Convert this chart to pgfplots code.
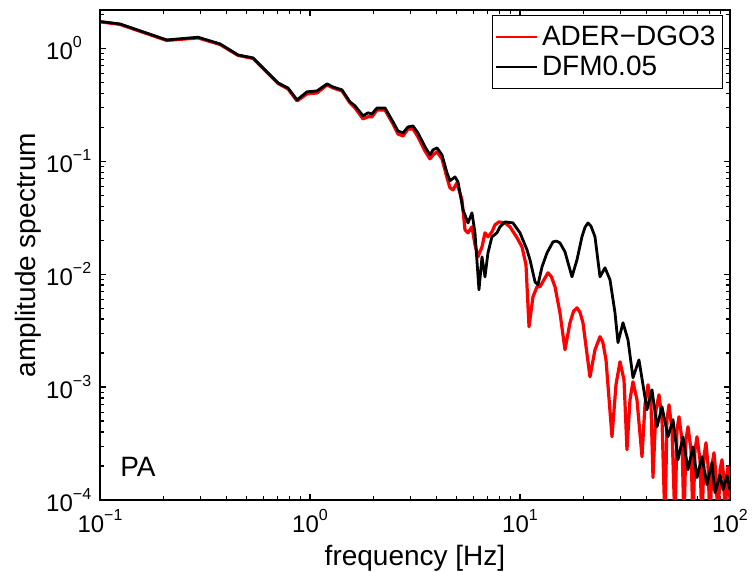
\documentclass[border=0pt]{standalone}
\usepackage{fontspec}
\setmainfont{Liberation Sans}
\usepackage{pgfplots}
\pgfplotsset{compat=1.18}
\definecolor{specred}{RGB}{255,0,0}
% x tick labels: whole label centred
\newcommand{\tp}[1]{10\raisebox{6pt}{\fontsize{8}{8}\selectfont #1}}
% y tick labels: "10" right aligned, exponent hangs to the right
\newcommand{\tq}[1]{10\rlap{\raisebox{6pt}{\fontsize{8}{8}\selectfont #1}}}

\begin{document}
\begin{tikzpicture}
\useasboundingbox (-50pt,-36pt) rectangle (326pt,250pt);
\begin{axis}[
  at={(0,0)}, anchor=south west,
  scale only axis, width=315pt, height=245pt,
  xmode=log, ymode=log,
  xmin=0.1, xmax=100, ymin=1e-4, ymax=2.18,
  xtick={0.1,1,10,100},
  xticklabels={\tp{−1},\tp{0},\tp{1},\tp{2}},
  ytick={1e-4,1e-3,1e-2,1e-1,1},
  yticklabels={\tq{−4},\tq{−3},\tq{−2},\tq{−1},\tq{0}},
  minor xtick={0.2,0.3,0.4,0.5,0.6,0.7,0.8,0.9,2,3,4,5,6,7,8,9,20,30,40,50,60,70,80,90},
  minor ytick={2e-4,3e-4,4e-4,5e-4,6e-4,7e-4,8e-4,9e-4,2e-3,3e-3,4e-3,5e-3,6e-3,7e-3,8e-3,9e-3,
               2e-2,3e-2,4e-2,5e-2,6e-2,7e-2,8e-2,9e-2,0.2,0.3,0.4,0.5,0.6,0.7,0.8,0.9,2},
  tick align=inside,
  major tick length=3pt, minor tick length=1.8pt,
  every tick/.style={black, line width=0.6pt},
  axis line style={line width=1pt},
  tick label style={font=\fontsize{12}{12}\selectfont},
  xticklabel style={anchor=north, yshift=-1pt},
  yticklabel style={anchor=east, xshift=-10pt},
  xlabel={frequency [Hz]},
  ylabel={amplitude spectrum},
  every axis x label/.style={at={(axis description cs:0.5,-0.0776)}, anchor=north,
    font=\fontsize{14}{14}\selectfont},
  every axis y label/.style={at={(axis description cs:-0.0825,0.5)}, rotate=90, anchor=south,
    font=\fontsize{14}{14}\selectfont},
  legend style={at={(axis description cs:0.9889,0.9898)}, anchor=north east,
    draw=black, line width=0.5pt, font=\fontsize{14}{14}\selectfont,
    inner xsep=1.5pt, inner ysep=3pt},
  legend cell align=left,
  legend image code/.code={\draw[#1, line width=1pt] (0pt,0pt) -- (20.5pt,0pt);},
]
% ADER-DGO3
\addplot[specred, line width=1.6pt, line join=round] coordinates {
(0.1011,1.71)(0.1245,1.624)(0.2078,1.172)(0.2929,1.234)(0.3728,1.080)
(0.4541,0.864)(0.5354,0.812)(0.704,0.488)(0.7857,0.436)(0.8674,0.342)
(0.9676,0.394)(1.080,0.402)(1.205,0.473)(1.287,0.445)(1.420,0.419)
(1.550,0.328)(1.638,0.296)(1.788,0.237)(1.889,0.247)(1.973,0.247)
(2.085,0.284)(2.276,0.284)(2.484,0.214)(2.624,0.174)(2.773,0.167)
(2.929,0.193)(3.094,0.193)(3.268,0.164)(3.529,0.123)(3.728,0.1048)
(3.853,0.1137)(4.025,0.1209)(4.252,0.1048)(4.492,0.0712)(4.642,0.0580)
(4.797,0.0557)(5.012,0.0643)(5.293,0.0454)(5.472,0.0247)(5.655,0.0232)
(5.907,0.0262)(6.105,0.0182)(6.310,0.01423)(6.593,0.01744)(6.813,0.0232)
(7.04,0.0214)(7.356,0.0237)(7.603,0.0273)(7.943,0.0290)(8.483,0.0284)
(8.964,0.0262)(9.676,0.0210)(10.22,0.01744)(10.68,0.01209)(11.04,0.00342)
(11.53,0.00630)(12.05,0.00773)(12.45,0.00773)(13.01,0.00892)(13.59,0.01027)
(14.10,0.00950)(14.68,0.00773)(15.50,0.00455)(16.38,0.00214)(17.30,0.00371)
(18.00,0.00470)(18.68,0.00503)(19.30,0.00460)(19.95,0.00371)(21.54,0.00123)
(22.76,0.00214)(24.04,0.00279)(24.80,0.00250)(25.68,0.00174)(27.42,0.000363)
(28.65,0.001048)(29.94,0.001675)(31.28,0.00116)(32.32,0.000279)(33.41,0.000772)
(34.52,0.001114)(36.07,0.000772)(38.11,0.000242)(39.38,0.000697)(40.69,0.001048)
(42.05,0.000697)(42.98,0.000158)(44.42,0.000630)(45.91,0.000855)(47.45,0.000514)
(49.03,0.00006)(50.12,0.000514)(51.23,0.000697)(52.94,0.000419)(54.72,0.00006)
(55.93,0.000419)(57.17,0.000546)(59.07,0.000342)(60.39,0.00006)(61.73,0.000342)
(63.10,0.000445)(65.21,0.000279)(66.66,0.00006)(68.13,0.000279)(69.65,0.000363)
(71.97,0.000227)(73.56,0.00006)(75.19,0.000242)(76.86,0.000321)(78.57,0.000205)
(80.32,0.00006)(82.10,0.000205)(83.92,0.000262)(85.77,0.000167)(87.68,0.00006)
(89.64,0.000185)(91.60,0.000227)(93.63,0.000152)(94.67,0.00006)(96.76,0.000167)
(97.84,0.000197)(100,0.000101)
};
\addlegendentry{ADER−DGO3}
% DFM0.05
\addplot[black, line width=1.4pt, line join=round] coordinates {
(0.1011,1.720)(0.1245,1.641)(0.2078,1.184)(0.2929,1.251)(0.3728,1.092)
(0.4541,0.872)(0.5354,0.821)(0.704,0.493)(0.7857,0.445)(0.8674,0.349)
(0.9676,0.411)(1.080,0.419)(1.205,0.483)(1.287,0.454)(1.420,0.428)
(1.550,0.335)(1.638,0.309)(1.788,0.252)(1.889,0.268)(1.973,0.262)
(2.085,0.296)(2.276,0.296)(2.484,0.223)(2.624,0.185)(2.773,0.178)
(2.929,0.201)(3.094,0.205)(3.268,0.178)(3.529,0.134)(3.728,0.1137)
(3.853,0.1259)(4.025,0.1311)(4.252,0.1137)(4.492,0.0788)(4.642,0.0670)
(4.903,0.0726)(5.067,0.0656)(5.354,0.0371)(5.655,0.0284)(5.907,0.0349)
(6.105,0.0232)(6.379,0.00726)(6.593,0.01423)(6.813,0.00946)(7.04,0.01543)
(7.356,0.0214)(7.771,0.0232)(8.03,0.0262)(8.483,0.0290)(9.26,0.0284)
(10.0,0.0232)(10.80,0.0164)(11.16,0.01338)(11.79,0.00855)(12.18,0.00804)
(12.73,0.01160)(13.45,0.01543)(14.36,0.0193)(14.90,0.0196)(15.50,0.0189)
(16.38,0.01575)(17.68,0.00946)(18.68,0.01338)(19.73,0.0214)(20.40,0.0260)
(21.08,0.0284)(21.80,0.0265)(22.76,0.0214)(24.04,0.00946)(25.40,0.01137)
(26.83,0.00892)(28.34,0.00455)(29.29,0.00247)(30.94,0.00371)(32.68,0.00262)
(34.52,0.00121)(36.87,0.00174)(40.25,0.000630)(42.52,0.000946)(44.92,0.000445)
(47.45,0.000669)(50.68,0.000363)(53.54,0.000514)(56.55,0.000227)(59.73,0.000363)
(63.10,0.000185)(66.66,0.000296)(69.65,0.000158)(73.56,0.000242)(77.71,0.000137)
(82.10,0.000214)(84.84,0.000116)(89.64,0.000167)(92.62,0.000123)(96.76,0.000164)
(100,0.000123)
};
\addlegendentry{DFM0.05}
\node[anchor=west, inner sep=0pt, font=\fontsize{14}{14}\selectfont] at (axis cs:0.1245,1.97e-4) {PA};
\end{axis}
\end{tikzpicture}
\end{document}
